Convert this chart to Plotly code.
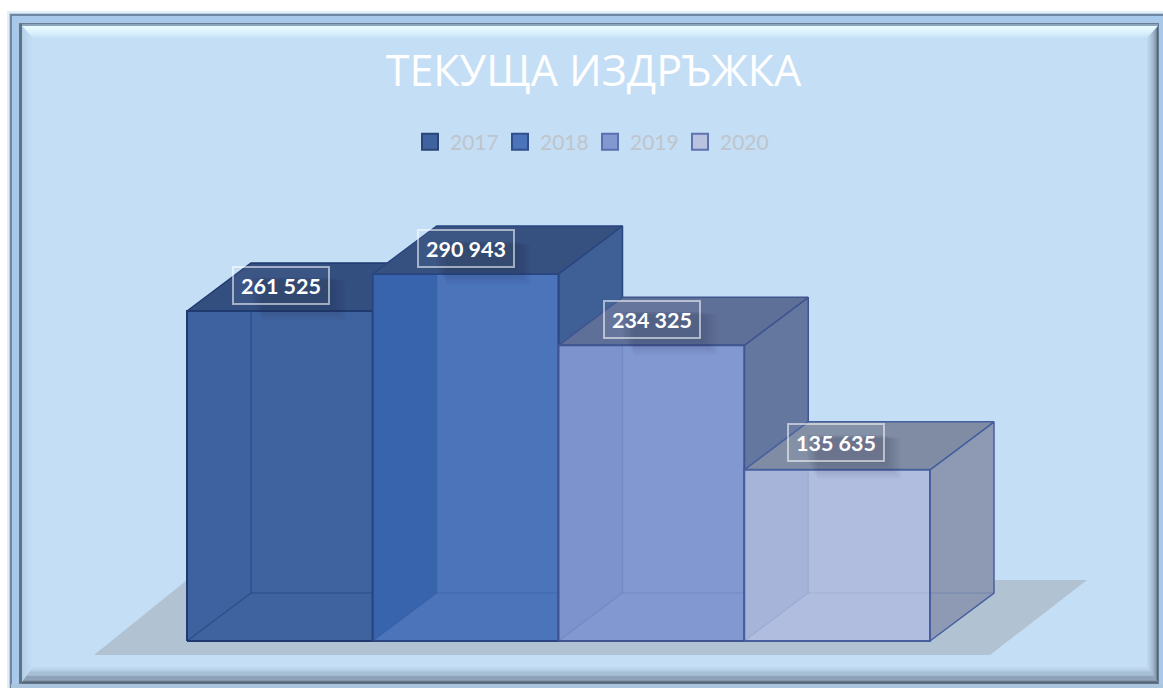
import plotly.graph_objects as go

title_text = "ТЕКУЩА ИЗДРЪЖКА"
years = ["2017", "2018", "2019", "2020"]
values = [261525, 290943, 234325, 135635]

front_colors = ["#3F639F", "#4B74BB", "#8298D1", "#B0BDDF"]
strip_colors = ["#3E629F", "#3864AE", "#7C93CD", "#A6B4D9"]
top_colors = ["#334F80", "#36517F", "#5F7098", "#7F8CA3"]
side_colors = ["#3B5C95", "#3F6097", "#64779F", "#8E9AB4"]
edge_colors = ["#1F3A6E", "#2A4680", "#40558F", "#46609F"]
inner_alpha = [0.55, 0.25, 0.18, 0.14]
legend_fill = ["#3F639F", "#4B74BB", "#8298D1", "#B9C3E0"]
legend_line = ["#2A4678", "#2F4F8C", "#5A70AE", "#6073AE"]

W, H = 1163, 688
PX_PER_CAT = 185.75
PX_PER_VAL = 330 / 261525
X0_PX, Y0_PX = 187, 641
DX, DY = 64 / PX_PER_CAT, 48 / PX_PER_VAL


def ax(px):
    return (px - X0_PX) / PX_PER_CAT


def ay(py):
    return (Y0_PX - py) / PX_PER_VAL


def fx(px):
    return px / W


def fy(py):
    return 1 - py / H


def hex2(c):
    return tuple(int(c[i:i + 2], 16) for i in (1, 3, 5))


def lerp(a, b, t):
    ra, rb = hex2(a), hex2(b)
    return "#%02X%02X%02X" % tuple(round(x + (y - x) * t) for x, y in zip(ra, rb))


fig = go.Figure()
shapes = []


def poly_path(points):
    return "M " + " L ".join(f"{fx(x):.5f},{fy(y):.5f}" for x, y in points) + " Z"


def rect(l, t, r, b, color):
    shapes.append(dict(type="rect", xref="paper", yref="paper", layer="below",
                       x0=fx(l), x1=fx(r), y0=fy(b), y1=fy(t),
                       fillcolor=color, line=dict(width=0)))


# outer frame
rect(7, 11, W, H, "#E4EEF7")
rect(9, 13, W, H, "#B9CFE4")
rect(10, 14, W, H, "#6E87A3")
rect(12, 16, W, H, "#A9C9EA")
rect(11, 684, W, H, "#A9C6DE")
# inner frame
rect(19, 23, 1159, 684, "#6A7D93")
rect(21, 24, 1158, 683, "#8CA4BC")
rect(19, 24, 22, 683, "#5F7388")
rect(22, 682, 1158, 683.5, "#566678")

# bevel
L, T, R, B = 22, 26, 1158, 682
wl, wt, wr, wb = 11, 12, 11, 15
inner = "#C4DEF5"
rect(L, T, R, B, inner)
steps = 12
for i in range(steps):
    a, b = i / steps, (i + 1) / steps
    l0, l1 = L + wl * a, L + wl * b
    t0, t1 = T + wt * a, T + wt * b
    r0, r1 = R - wr * a, R - wr * b
    b0, b1 = B - wb * a, B - wb * b
    ctop = lerp("#E6FCFF", inner, a ** 1.5)
    cleft = lerp("#B2CDE6", inner, a)
    cright = lerp("#465668", inner, a ** 0.55)
    cbot = lerp("#66778A", inner, a ** 0.7)
    for pts, c in (
        ([(l0, t0), (r0, t0), (r1, t1), (l1, t1)], ctop),
        ([(l0, t0), (l1, t1), (l1, b1), (l0, b0)], cleft),
        ([(r0, t0), (r1, t1), (r1, b1), (r0, b0)], cright),
        ([(l0, b0), (r0, b0), (r1, b1), (l1, b1)], cbot),
    ):
        shapes.append(dict(type="path", xref="paper", yref="paper", layer="below",
                           path=poly_path(pts), fillcolor=c, line=dict(width=0)))

# floor
shapes.append(dict(type="path", xref="paper", yref="paper", layer="below",
                   path=poly_path([(94, 655), (990, 655), (1087, 580), (187, 580)]),
                   fillcolor="#B1C2D3", line=dict(width=0)))


def poly(xs, ys, fill=None, line=None, width=1.5, name=None):
    fig.add_trace(go.Scatter(
        x=xs, y=ys, mode="lines", showlegend=False, hoverinfo="skip", name=name,
        fill="toself" if fill else None, fillcolor=fill,
        line=dict(color=line or "rgba(0,0,0,0)", width=width if line else 0),
    ))


def rgba(c, a):
    return "rgba(%d,%d,%d,%.2f)" % (*hex2(c), a)


for i, v in enumerate(values):
    x0, x1 = i, i + 1
    # right side
    poly([x1, x1 + DX, x1 + DX, x1, x1], [0, DY, v + DY, v, 0], side_colors[i], edge_colors[i])
    # back lines seen through the side
    poly([x1, x1 + DX], [DY, DY], None, rgba(edge_colors[i], 0.35), 1)
    # top
    poly([x0, x0 + DX, x1 + DX, x1, x0], [v, v + DY, v + DY, v, v], top_colors[i], edge_colors[i])
    # front
    poly([x0, x1, x1, x0, x0], [0, 0, v, v, 0], front_colors[i], None)
    # left wall seen through the front
    poly([x0, x0 + DX, x0 + DX, x0, x0], [0, DY, v, v, 0], strip_colors[i], None)
    # inner edges
    poly([x0, x0 + DX, x0 + DX], [0, DY, v], None, rgba(edge_colors[i], inner_alpha[i]), 1.2)
    poly([x0 + DX, x1], [DY, DY], None, rgba(edge_colors[i], inner_alpha[i]), 1.2)
    # front outline
    poly([x0, x1, x1, x0, x0], [0, 0, v, v, 0], None, edge_colors[i], 2)

# legend entries
for y, f, l in zip(years, legend_fill, legend_line):
    fig.add_trace(go.Scatter(
        x=[None], y=[None], mode="markers", name=y,
        marker=dict(symbol="square", size=16, color=f, line=dict(color=l, width=2)),
    ))

# data labels
label_dy = [26, 25, 26, 27]
label_dx = [1, 0, 1, -1]
annotations = []
for i, (v, dy, dx) in enumerate(zip(values, label_dy, label_dx)):
    cx = i + 0.5 + dx / PX_PER_CAT
    cy = v + dy / PX_PER_VAL
    for k in range(10):
        g = 1 + k * 2
        shapes.append(dict(type="rect", xref="x", yref="y", layer="above",
                           x0=cx - (30 - g * 0.6) / PX_PER_CAT, x1=cx + (46 + g) / PX_PER_CAT,
                           y0=cy - (17 + g) / PX_PER_VAL, y1=cy + (8 - g * 0.2) / PX_PER_VAL,
                           fillcolor="rgba(20,30,60,0.028)", line=dict(width=0)))
    annotations.append(dict(
        x=cx, y=cy, xref="x", yref="y", showarrow=False,
        text=f"{v:,}".replace(",", " "),
        font=dict(family="Lato", size=21.5, color="#FFFFFF", weight="bold"),
        width=94, height=35, align="center", valign="middle",
        bgcolor="rgba(255,255,255,0.04)", bordercolor="rgba(255,255,255,0.55)",
        borderwidth=2, borderpad=0,
    ))

fig.update_layout(
    width=W, height=H, autosize=False,
    margin=dict(l=0, r=0, t=0, b=0),
    paper_bgcolor="#FFFFFF", plot_bgcolor="rgba(0,0,0,0)",
    xaxis=dict(visible=False, range=[ax(0), ax(W)], fixedrange=True),
    yaxis=dict(visible=False, range=[ay(H), ay(0)], fixedrange=True),
    title=dict(text=title_text, x=593.5 / W, xanchor="center", y=1 - 71 / H, yanchor="middle",
               font=dict(family="Open Sans", size=43, color="#FFFFFF")),
    legend=dict(orientation="h", x=fx(410), xanchor="left", y=fy(142), yanchor="middle",
                font=dict(family="Lato", size=21, color="#BFC5CC"),
                bgcolor="rgba(0,0,0,0)", itemwidth=30,
                entrywidth=45, entrywidthmode="pixels", itemclick=False, itemdoubleclick=False),
    shapes=shapes, annotations=annotations,
)

fig.write_html("out.html", config={"displayModeBar": False},
               post_script="document.body.style.margin='0';document.body.style.overflow='hidden';")
